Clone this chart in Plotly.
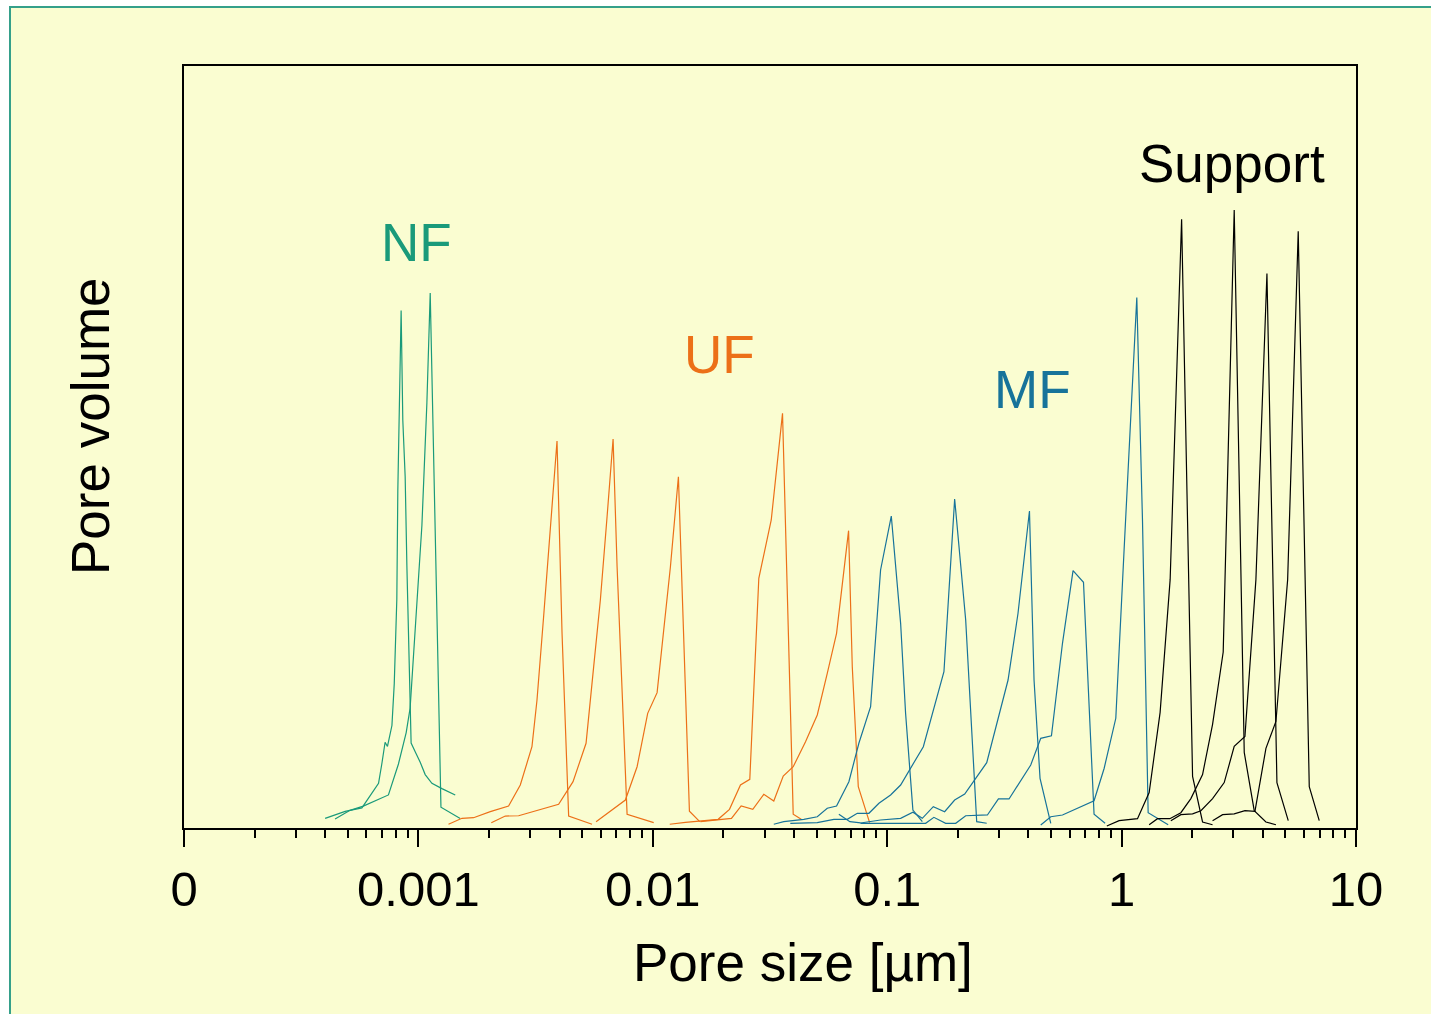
import plotly.graph_objects as go

# ---------------- data (pore size in µm, pore volume in arbitrary units) ----------------
NF1_SIZE = [4.00e-4, 4.87e-4, 5.74e-4, 6.23e-4, 6.76e-4, 6.98e-4, 7.21e-4, 7.38e-4, 7.53e-4, 7.71e-4,
            7.89e-4, 8.09e-4, 8.17e-4, 8.30e-4, 8.44e-4, 8.58e-4, 8.78e-4, 8.93e-4, 9.16e-4, 9.31e-4,
            9.69e-4, 1.018e-3, 1.069e-3, 1.142e-3, 1.260e-3, 1.436e-3]
NF1_VOL = [1.26, 2.18, 2.64, 4.25, 5.87, 8.40, 11.25, 10.70, 11.85, 13.45,
           18.98, 30.03, 44.29, 58.11, 67.91, 53.50, 46.14, 34.40, 21.29, 11.15,
           10.0, 8.62, 7.01, 5.87, 5.17, 4.34]

NF2_SIZE = [4.41e-4, 5.11e-4, 5.82e-4, 7.45e-4, 8.22e-4, 8.87e-4, 9.22e-4, 9.69e-4, 1.035e-3,
            1.087e-3, 1.123e-3, 1.153e-3, 1.200e-3, 1.248e-3, 1.508e-3]
NF2_VOL = [1.17, 2.32, 2.87, 4.34, 8.40, 12.53, 15.75, 25.89, 39.70, 55.80, 70.21, 53.50, 25.89, 2.73, 1.26]

UF1_SIZE = [1.344e-3, 1.534e-3, 1.719e-3, 2.026e-3, 2.425e-3, 2.721e-3, 3.051e-3, 3.206e-3, 3.421e-3,
            3.654e-3, 3.903e-3, 4.100e-3, 4.375e-3, 5.506e-3]
UF1_VOL = [0.49, 1.27, 1.35, 2.14, 2.89, 5.64, 10.67, 16.80, 27.73, 38.67, 50.79, 25.55, 1.57, 0.49]

UF2_SIZE = [2.046e-3, 2.347e-3, 2.676e-3, 3.965e-3, 4.568e-3, 5.191e-3, 5.595e-3, 5.974e-3, 6.381e-3,
            6.770e-3, 7.041e-3, 7.395e-3, 7.768e-3, 1.009e-2]
UF2_VOL = [0.70, 1.57, 1.61, 3.11, 6.08, 11.12, 21.17, 29.92, 40.85, 51.05, 34.29, 16.80, 1.80, 0.70]

UF3_SIZE = [5.727e-3, 7.638e-3, 8.570e-3, 9.51e-3, 1.043e-2, 1.106e-2, 1.189e-2, 1.286e-2, 1.355e-2,
            1.433e-2, 1.586e-2]
UF3_VOL = [0.83, 3.67, 8.04, 15.05, 17.76, 25.55, 34.29, 46.10, 25.55, 2.20, 0.83]

UF4_SIZE = [1.181e-2, 1.378e-2, 1.900e-2, 2.124e-2, 2.366e-2, 2.593e-2, 2.833e-2, 3.201e-2, 3.576e-2,
            3.745e-2, 3.972e-2, 4.297e-2]
UF4_VOL = [0.49, 0.75, 1.14, 2.45, 5.64, 6.39, 32.77, 40.42, 54.42, 29.92, 1.80, 1.14]

UF5_SIZE = [1.597e-2, 2.166e-2, 2.382e-2, 2.671e-2, 2.976e-2, 3.282e-2, 3.601e-2, 3.972e-2, 4.483e-2,
            5.031e-2, 5.550e-2, 6.081e-2, 6.843e-2, 7.096e-2, 7.527e-2, 8.414e-2]
UF5_VOL = [0.83, 1.27, 2.89, 2.45, 4.42, 3.54, 6.82, 8.04, 11.33, 14.83, 20.30, 25.55, 39.02, 21.17, 5.42, 0.70]

MF1_SIZE = [3.282e-2, 3.622e-2, 4.409e-2, 5.031e-2, 5.550e-2, 6.081e-2, 6.864e-2, 7.571e-2, 8.495e-2,
            9.37e-2, 0.1041, 0.1141, 0.1198, 0.1287, 0.1412]
MF1_VOL = [0.49, 0.83, 1.14, 1.48, 2.59, 2.89, 6.08, 11.12, 15.92, 33.86, 40.94, 26.86, 15.05, 2.36, 0.83]

MF2_SIZE = [3.860e-2, 5.031e-2, 5.922e-2, 6.757e-2, 7.453e-2, 8.356e-2, 9.22e-2, 0.1034, 0.1141,
            0.1426, 0.1746, 0.1940, 0.2162, 0.2271, 0.2409, 0.2658]
MF2_VOL = [0.62, 0.70, 1.14, 1.14, 1.93, 1.93, 3.24, 4.33, 5.64, 10.67, 20.51, 43.18, 27.30, 15.05, 0.83, 0.62]

MF3_SIZE = [6.220e-2, 6.932e-2, 7.70e-2, 9.37e-2, 0.1141, 0.1287, 0.1412, 0.1573, 0.1758, 0.1940,
            0.2141, 0.2658, 0.3278, 0.3615, 0.4045, 0.4231, 0.4488, 0.4987]
MF3_VOL = [1.80, 0.83, 0.66, 1.05, 1.27, 2.06, 1.27, 2.80, 2.14, 3.67,
           4.46, 8.57, 19.42, 28.18, 41.60, 19.42, 6.52, 0.62]

MF4_SIZE = [7.70e-2, 0.1459, 0.1582, 0.1776, 0.1960, 0.2162, 0.2676, 0.2982, 0.3309, 0.4096,
            0.4519, 0.5020, 0.5595, 0.6207, 0.6877, 0.7265, 0.7630, 0.8505]
MF4_VOL = [0.62, 0.62, 1.40, 0.62, 0.62, 1.61, 1.71, 3.81, 3.81, 8.27,
           11.77, 12.11, 24.24, 33.77, 32.24, 15.09, 1.80, 0.62]

MF5_SIZE = [0.4519, 0.4987, 0.5595, 0.7630, 0.8421, 0.9446, 1.025, 1.161, 1.228, 1.298, 1.580]
MF5_VOL = [0.39, 1.48, 1.71, 3.58, 7.81, 14.40, 36.55, 69.61, 40.24, 2.01, 0.42]

S1_SIZE = [0.8648, 0.9757, 1.169, 1.311, 1.460, 1.611, 1.803, 2.008, 2.215, 2.444]
S1_VOL = [0.26, 0.96, 1.22, 4.65, 15.18, 32.59, 79.88, 6.76, 0.79, 0.43]

S2_SIZE = [1.311, 1.423, 1.606, 1.790, 1.975, 2.215, 2.444, 2.713, 3.023, 3.336, 3.680, 4.128, 4.554]
S2_VOL = [0.43, 1.22, 1.22, 2.01, 3.86, 7.02, 13.61, 23.10, 81.10, 9.92, 2.27, 0.79, 0.43]

S3_SIZE = [1.622, 1.790, 2.008, 2.179, 2.444, 2.740, 3.023, 3.359, 3.741, 4.169, 4.599, 5.140]
S3_VOL = [0.96, 1.75, 1.85, 2.27, 3.86, 5.96, 10.71, 12.02, 32.59, 72.77, 5.96, 0.96]

S4_SIZE = [2.444, 2.697, 3.023, 3.359, 3.706, 4.128, 4.554, 5.110, 5.669, 6.318, 6.970]
S4_VOL = [0.96, 1.75, 1.85, 2.27, 2.17, 10.45, 13.98, 32.59, 78.31, 5.43, 0.96]

TICK_VALS = [1e-4, 1e-3, 1e-2, 1e-1, 1, 10]
TICK_TEXT = ["0", "0.001", "0.01", "0.1", "1", "10"]
MINOR_VALS = [m * 10.0 ** e for e in range(-4, 1) for m in range(2, 10)]

# ---------------- styling ----------------
C_NF = "#1A9A7A"
C_UF = "#EC7018"
C_MF = "#17739A"
C_SUP = "#000000"
BG = "#FAFDD1"
FONT = "Liberation Sans, Arial, Helvetica, sans-serif"

series = [
    (NF1_SIZE, NF1_VOL, C_NF), (NF2_SIZE, NF2_VOL, C_NF),
    (UF1_SIZE, UF1_VOL, C_UF), (UF2_SIZE, UF2_VOL, C_UF), (UF3_SIZE, UF3_VOL, C_UF),
    (UF4_SIZE, UF4_VOL, C_UF), (UF5_SIZE, UF5_VOL, C_UF),
    (MF1_SIZE, MF1_VOL, C_MF), (MF2_SIZE, MF2_VOL, C_MF), (MF3_SIZE, MF3_VOL, C_MF),
    (MF4_SIZE, MF4_VOL, C_MF), (MF5_SIZE, MF5_VOL, C_MF),
    (S1_SIZE, S1_VOL, C_SUP), (S2_SIZE, S2_VOL, C_SUP), (S3_SIZE, S3_VOL, C_SUP), (S4_SIZE, S4_VOL, C_SUP),
]

fig = go.Figure()
for xs, ys, col in series:
    fig.add_trace(go.Scatter(x=xs, y=ys, mode="lines",
                             line=dict(color=col, width=1.2), hoverinfo="skip"))

W, H = 1431, 1014
L, R, T, B = 184, 75, 66, 186

fig.update_layout(
    width=W, height=H,
    margin=dict(l=L, r=R, t=T, b=B, pad=0),
    paper_bgcolor="white",
    plot_bgcolor=BG,
    showlegend=False,
    hovermode=False,
    font=dict(family=FONT, color="black"),
    xaxis=dict(
        type="log", range=[-4, 1],
        tickvals=TICK_VALS, ticktext=TICK_TEXT,
        ticks="outside", ticklen=17, tickwidth=2, tickcolor="black",
        tickfont=dict(size=49, family=FONT, color="black"),
        showline=True, linewidth=2, linecolor="black", mirror=True,
        showgrid=False, zeroline=False,
        minor=dict(tickvals=MINOR_VALS, ticks="outside", ticklen=8, tickwidth=2,
                   tickcolor="black", showgrid=False),
    ),
    yaxis=dict(
        range=[0, 100], showticklabels=False, ticks="",
        showline=True, linewidth=2, linecolor="black", mirror=True,
        showgrid=False, zeroline=False,
    ),
    shapes=[dict(type="rect", xref="paper", yref="paper",
                 x0=(10 - L) / 1172, x1=1.2, y0=-0.4, y1=(828 - 7) / 762,
                 fillcolor=BG, line=dict(color="#35A08A", width=2), layer="below")],
)

def ann(text, px, py, color, size=53, angle=0):
    fig.add_annotation(text=text, xref="paper", yref="paper",
                       x=(px - L) / 1172, y=(828 - py) / 762,
                       xanchor="center", yanchor="middle", showarrow=False,
                       textangle=angle, font=dict(size=size, color=color, family=FONT))

ann("NF", 416, 242, C_NF)
ann("UF", 719, 354, C_UF)
ann("MF", 1032, 389, C_MF)
ann("Support", 1232, 163, "black")
ann("Pore size [µm]", 803, 962, "black")
ann("Pore volume", 90, 426, "black", angle=-90)

fig.write_html(
    "out.html",
    config={"displayModeBar": False, "staticPlot": True},
    post_script="document.body.style.margin='0';document.body.style.padding='0';"
                "document.body.style.overflow='hidden';"
                "document.documentElement.style.overflow='hidden';",
)
